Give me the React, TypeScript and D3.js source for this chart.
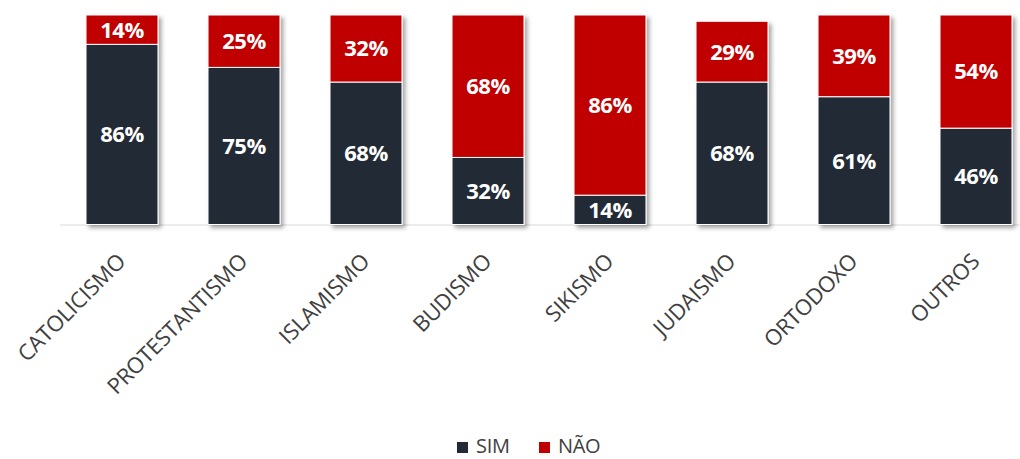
import React from "react";
import * as d3 from "d3";

const categories = ["CATOLICISMO", "PROTESTANTISMO", "ISLAMISMO", "BUDISMO", "SIKISMO", "JUDAISMO", "ORTODOXO", "OUTROS"];
const simValues = [86, 75, 68, 32, 14, 68, 61, 46];
const naoValues = [14, 25, 32, 68, 86, 29, 39, 54];
const seriesNames = ["SIM", "NÃO"];
const seriesColors = ["#242A35", "#C00000"];

const W = 1020;
const H = 459;

export default function App() {
  const x = d3.scaleBand<string>().domain(categories).range([61, 1037]).paddingInner(0.41).paddingOuter(0.205);
  const y = d3.scaleLinear().domain([0, 100]).range([224.5, 15]);
  const rows = categories.map((c, i) => ({ cat: c, SIM: simValues[i], NAO: naoValues[i] }));
  const stack = d3.stack<any>().keys(["SIM", "NAO"])(rows);
  const font = "'Open Sans', 'Noto Sans', sans-serif";

  return (
    <svg width={W} height={H} style={{ position: "absolute", left: 0, top: 0, background: "#fff" }}>
      <defs>
        <filter id="sh" x="-20%" y="-10%" width="150%" height="130%">
          <feDropShadow dx="3" dy="3" stdDeviation="2.2" floodColor="#000" floodOpacity="0.35" />
        </filter>
      </defs>
      <line x1={60} x2={W} y1={225} y2={225} stroke="#D9D9D9" strokeWidth={1.2} />
      {categories.map((c, i) => (
        <g key={c} filter="url(#sh)">
          {stack.map((s, si) => {
            const d = s[i];
            return (
              <rect
                key={si}
                x={x(c)!}
                y={y(d[1])}
                width={x.bandwidth()}
                height={y(d[0]) - y(d[1])}
                fill={seriesColors[si]}
                stroke="#fff"
                strokeWidth={1}
              />
            );
          })}
        </g>
      ))}
      {categories.map((c, i) =>
        stack.map((s, si) => {
          const d = s[i];
          const v = d[1] - d[0];
          return (
            <text
              key={c + si}
              x={x(c)! + x.bandwidth() / 2}
              y={(y(d[0]) + y(d[1])) / 2}
              dy="0.36em"
              textAnchor="middle"
              fill="#fff"
              fontFamily={font}
              fontWeight="bold"
              fontSize={22}
              letterSpacing={-0.5}
            >
              {v}%
            </text>
          );
        })
      )}
      {categories.map((c) => (
        <text
          key={"l" + c}
          transform={`translate(${x(c)! + x.bandwidth() / 2 - 6},${252}) rotate(-45)`}
          textAnchor="end"
          dy="0.7em"
          fill="#404040"
          fontFamily={font}
          fontSize={22}
          letterSpacing={-0.2}
        >
          {c}
        </text>
      ))}
      {seriesNames.map((n, i) => {
        const lx = [457, 539][i];
        return (
          <g key={n}>
            <rect x={lx} y={442} width={11} height={11} fill={seriesColors[i]} />
            <text x={lx + 19} y={445.5} dy="0.36em" fill="#404040" fontFamily={font} fontSize={20} letterSpacing={-0.3}>
              {n}
            </text>
          </g>
        );
      })}
    </svg>
  );
}
